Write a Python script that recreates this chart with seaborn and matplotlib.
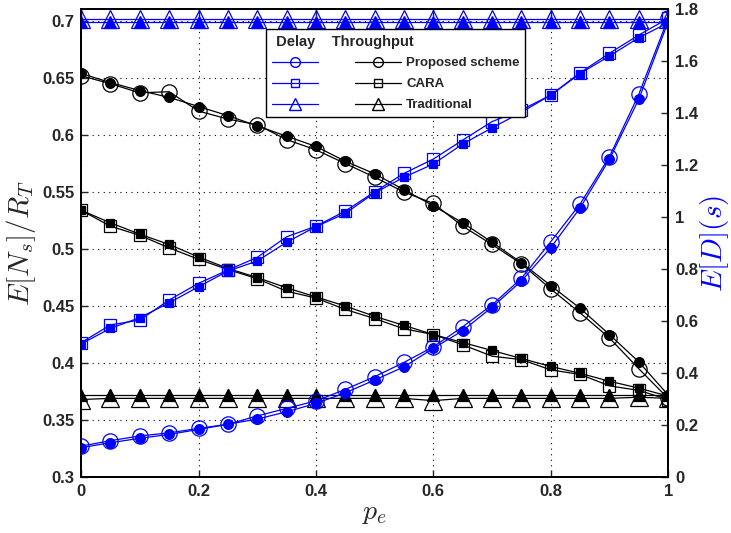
import numpy as np
import matplotlib
matplotlib.use("Agg")
import matplotlib.pyplot as plt
from matplotlib.lines import Line2D
import seaborn as sns

# x grid (packet error probability)
pe = [0.0, 0.05, 0.1, 0.15, 0.2, 0.25, 0.3, 0.35, 0.4, 0.45, 0.5,
      0.55, 0.6, 0.65, 0.7, 0.75, 0.8, 0.85, 0.9, 0.95, 1.0]

# throughput E[Ns]/RT (left axis): simulation (filled) and analysis (open)
thr_prop_sim = [0.654, 0.646, 0.639, 0.633, 0.625, 0.617, 0.608, 0.599, 0.590, 0.577, 0.566,
                0.552, 0.538, 0.523, 0.506, 0.488, 0.468, 0.448, 0.425, 0.401, 0.372]
thr_prop_ana = [0.652, 0.645, 0.637, 0.638, 0.621, 0.614, 0.609, 0.596, 0.587, 0.575, 0.563,
                0.550, 0.540, 0.520, 0.504, 0.487, 0.465, 0.444, 0.422, 0.395, 0.369]
thr_cara_sim = [0.534, 0.523, 0.513, 0.504, 0.493, 0.483, 0.475, 0.466, 0.458, 0.450, 0.441,
                0.433, 0.425, 0.418, 0.411, 0.404, 0.397, 0.391, 0.384, 0.378, 0.371]
thr_cara_ana = [0.534, 0.520, 0.512, 0.501, 0.491, 0.482, 0.474, 0.463, 0.457, 0.447, 0.439,
                0.430, 0.425, 0.416, 0.406, 0.403, 0.394, 0.390, 0.380, 0.376, 0.368]
thr_trad_sim = [0.372, 0.372, 0.372, 0.372, 0.372, 0.372, 0.372, 0.372, 0.372, 0.372, 0.372,
                0.372, 0.372, 0.372, 0.372, 0.372, 0.372, 0.372, 0.372, 0.372, 0.372]
thr_trad_ana = [0.368, 0.369, 0.369, 0.369, 0.369, 0.369, 0.369, 0.369, 0.369, 0.369, 0.369,
                0.369, 0.367, 0.369, 0.369, 0.369, 0.369, 0.369, 0.369, 0.370, 0.369]

# delay E[D] in s (right axis)
del_prop_sim = [0.113, 0.132, 0.149, 0.164, 0.183, 0.203, 0.223, 0.251, 0.283, 0.324, 0.373,
                0.424, 0.495, 0.563, 0.653, 0.754, 0.882, 1.035, 1.222, 1.453, 1.751]
del_prop_ana = [0.119, 0.140, 0.158, 0.170, 0.187, 0.203, 0.235, 0.264, 0.293, 0.337, 0.386,
                0.441, 0.501, 0.578, 0.662, 0.764, 0.905, 1.050, 1.232, 1.472, 1.764]
del_cara_sim = [0.512, 0.572, 0.613, 0.670, 0.732, 0.792, 0.831, 0.903, 0.963, 1.014, 1.093,
                1.153, 1.204, 1.281, 1.343, 1.403, 1.469, 1.552, 1.619, 1.690, 1.747]
del_cara_ana = [0.517, 0.585, 0.604, 0.681, 0.745, 0.796, 0.845, 0.924, 0.965, 1.023, 1.097,
                1.168, 1.223, 1.296, 1.367, 1.412, 1.469, 1.555, 1.630, 1.700, 1.764]
del_trad_sim = [1.752, 1.752, 1.752, 1.752, 1.752, 1.752, 1.752, 1.752, 1.752, 1.752, 1.752,
                1.752, 1.752, 1.752, 1.752, 1.752, 1.752, 1.752, 1.752, 1.752, 1.752]
del_trad_ana = [1.763, 1.763, 1.763, 1.763, 1.763, 1.763, 1.763, 1.763, 1.763, 1.763, 1.763,
                1.763, 1.763, 1.763, 1.763, 1.763, 1.763, 1.763, 1.763, 1.763, 1.763]

left_ticks = [0.3, 0.35, 0.4, 0.45, 0.5, 0.55, 0.6, 0.65, 0.7]
left_labels = ["0.3", "0.35", "0.4", "0.45", "0.5", "0.55", "0.6", "0.65", "0.7"]
right_ticks = [0, 0.2, 0.4, 0.6, 0.8, 1.0, 1.2, 1.4, 1.6, 1.8]
right_labels = ["0", "0.2", "0.4", "0.6", "0.8", "1", "1.2", "1.4", "1.6", "1.8"]
x_ticks = [0, 0.2, 0.4, 0.6, 0.8, 1.0]
x_labels = ["0", "0.2", "0.4", "0.6", "0.8", "1"]

sns.set_style("ticks")
plt.rcParams["font.family"] = ["Liberation Sans", "DejaVu Sans"]
plt.rcParams["mathtext.fontset"] = "cm"

BLUE = (0, 0, 1)
fig = plt.figure(figsize=(7.31, 5.33), dpi=100)
ax = fig.add_axes([0.111, 0.105, 0.803, 0.878])
ax2 = ax.twinx()


def draw(axis, y, color, marker, big, small):
    # analysis curve: open, large markers
    sns.lineplot(x=pe, y=y[1], ax=axis, color=color, marker=marker, markersize=big,
                 markerfacecolor="none", markeredgecolor=color, markeredgewidth=0.9,
                 linewidth=0.9)
    # simulation curve: filled, small markers
    sns.lineplot(x=pe, y=y[0], ax=axis, color=color, marker=marker, markersize=small,
                 markerfacecolor=color, markeredgecolor=color, markeredgewidth=0.9,
                 linewidth=0.9)


draw(ax, (thr_prop_sim, thr_prop_ana), "k", "o", 11, 7)
draw(ax, (thr_cara_sim, thr_cara_ana), "k", "s", 9, 6)
draw(ax, (thr_trad_sim, thr_trad_ana), "k", "^", 13, 8.5)
draw(ax2, (del_prop_sim, del_prop_ana), BLUE, "o", 11, 7)
draw(ax2, (del_cara_sim, del_cara_ana), BLUE, "s", 9, 6)
draw(ax2, (del_trad_sim, del_trad_ana), BLUE, "^", 13, 8.5)

ax.set_xlim(0, 1)
ax.set_ylim(0.3, 0.7105)
ax2.set_ylim(0, 1.8)

tick_font = dict(fontsize=12, fontweight="bold")
ax.set_xticks(x_ticks)
ax.set_xticklabels(x_labels, **tick_font)
ax.set_yticks(left_ticks)
ax.set_yticklabels(left_labels, **tick_font)
ax2.set_yticks(right_ticks)
ax2.set_yticklabels(right_labels, **tick_font)

ax.tick_params(direction="in", length=5, width=1, top=True, pad=5)
ax2.tick_params(direction="in", length=5, width=1, pad=5)
ax.grid(True, linestyle=(0, (1, 4)), color="k", linewidth=0.8)

for a in (ax, ax2):
    for s in a.spines.values():
        s.set_linewidth(1.4)
        s.set_color("k")

ax.set_xlabel(r"$p_e$", fontsize=20, labelpad=1)
ax.set_ylabel(r"$E[N_s]/R_T$", fontsize=21, labelpad=3)
ax2.set_ylabel(r"$E[D](s)$", fontsize=21, color=BLUE, labelpad=0)

handles = [
    Line2D([], [], color=BLUE, marker="o", markersize=7, markerfacecolor="none", lw=0.9),
    Line2D([], [], color=BLUE, marker="s", markersize=6, markerfacecolor="none", lw=0.9),
    Line2D([], [], color=BLUE, marker="^", markersize=8, markerfacecolor="none", lw=0.9),
    Line2D([], [], color="k", marker="o", markersize=7, markerfacecolor="none", lw=0.9),
    Line2D([], [], color="k", marker="s", markersize=6, markerfacecolor="none", lw=0.9),
    Line2D([], [], color="k", marker="^", markersize=8, markerfacecolor="none", lw=0.9),
]
labels = ["", "", "", "Proposed scheme", "CARA", "Traditional"]
leg = ax2.legend(handles, labels, ncol=2, loc="upper left",
                 bbox_to_anchor=(266 / 731, 1 - 29 / 533), bbox_transform=fig.transFigure,
                 borderaxespad=0, frameon=True, fancybox=False, framealpha=1,
                 edgecolor="k", prop=dict(size=9.5, weight="bold"),
                 handlelength=3.5, handletextpad=0.4, columnspacing=2.4,
                 labelspacing=0.66, borderpad=0.42,
                 title=" Delay    Throughput", title_fontproperties=dict(size=10.5, weight="bold"),
                 alignment="left")
leg.get_frame().set_linewidth(1.0)

fig.savefig("out.png", dpi=100)
